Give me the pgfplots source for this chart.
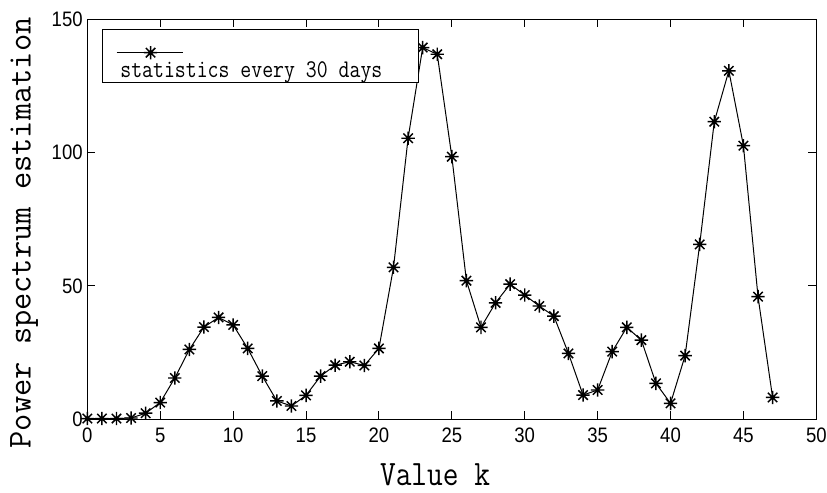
\documentclass[border=0pt]{standalone}
\usepackage{pgfplots}
\pgfplotsset{compat=1.18}
\usepackage{fontspec}
\setmainfont{Liberation Sans}
\pgfdeclareplotmark{mstar}{%
 \pgfpathmoveto{\pgfqpoint{-\pgfplotmarksize}{0pt}}\pgfpathlineto{\pgfqpoint{\pgfplotmarksize}{0pt}}%
 \pgfpathmoveto{\pgfqpoint{0pt}{-\pgfplotmarksize}}\pgfpathlineto{\pgfqpoint{0pt}{\pgfplotmarksize}}%
 \pgfpathmoveto{\pgfqpoint{-0.707\pgfplotmarksize}{-0.707\pgfplotmarksize}}\pgfpathlineto{\pgfqpoint{0.707\pgfplotmarksize}{0.707\pgfplotmarksize}}%
 \pgfpathmoveto{\pgfqpoint{-0.707\pgfplotmarksize}{0.707\pgfplotmarksize}}\pgfpathlineto{\pgfqpoint{0.707\pgfplotmarksize}{-0.707\pgfplotmarksize}}%
 \pgfusepathqstroke}
\pgfplotstableread{
k p
0 0.3
1 0.3
2 0.3
3 0.5
4 2.3
5 6.3
6 15.5
7 26.2
8 34.6
9 38.2
10 35.4
11 26.6
12 16.2
13 6.9
14 5.0
15 9.0
16 16.2
17 20.3
18 21.6
19 20.2
20 26.6
21 57.0
22 105.4
23 139.4
24 136.9
25 98.5
26 52.0
27 34.5
28 43.7
29 50.7
30 46.6
31 42.5
32 38.7
33 24.7
34 9.1
35 11.0
36 25.4
37 34.5
38 29.7
39 13.5
40 6.0
41 23.9
42 65.6
43 111.6
44 130.7
45 102.6
46 46.0
47 8.2
}\datatable
\begin{document}
\begin{tikzpicture}
\begin{axis}[
  scale only axis,
  width=546.75pt, height=300pt,
  xmin=0, xmax=50, ymin=0, ymax=150,
  xtick={0,5,...,50}, ytick={0,50,100,150},
  tick align=inside, tick pos=both,
  major tick length=6pt,
  axis line style={line width=0.75pt},
  every tick/.style={black, line width=0.75pt},
  clip=false,
  xticklabel={\scalebox{1}[1.13]{\pgfmathprintnumber[assume math mode=true]{\tick}}},
  yticklabel={\scalebox{1}[1.13]{\pgfmathprintnumber[assume math mode=true]{\tick}}},
  ticklabel style={font=\fontsize{13.9}{16}\selectfont},
  xticklabel style={yshift=-3pt},
  xlabel={\scalebox{1}[1.17]{\ttfamily\fontsize{22.9}{25}\selectfont Value k}},
  xlabel style={at={(axis description cs:0.477,-0.165)}, anchor=base, inner sep=0pt, outer sep=0pt},
  ylabel={\ttfamily\fontsize{25.1}{27}\selectfont Power spectrum estimation},
  ylabel style={at={(axis description cs:-0.0868,0.466)}, anchor=center, inner sep=0pt, outer sep=0pt},
  legend style={at={(axis description cs:0.0211,0.975)}, anchor=north west,
    inner sep=0pt, outer sep=0pt, column sep=0pt, line width=0.75pt,
    cells={anchor=base west, inner sep=0pt, outer sep=0pt}},
  legend image code/.code={%
    \path (0pt,0pt);
    \draw[overlay, mark=none] (10pt,18.75pt) -- (60pt,18.75pt);
    \draw[overlay] plot[only marks] coordinates {(35.5pt,18.75pt)};
  },
]
\addplot[black, line width=0.75pt, mark=mstar, mark size=5pt,
  mark options={line width=1.1pt}] table[x=k, y=p] {\datatable};
\addlegendentry{\raisebox{0pt}[34.3pt][6.75pt]{\makebox[231.75pt][l]{\hspace*{10.5pt}\scalebox{1}[1.2]{\ttfamily\fontsize{15.9}{18}\selectfont statistics every 30 days}}}}
\end{axis}
\pgfresetboundingbox
\path (current axis.south west) ++(-65.5pt,-54.5pt) rectangle ++(620.25pt,369pt);
\end{tikzpicture}
\end{document}
